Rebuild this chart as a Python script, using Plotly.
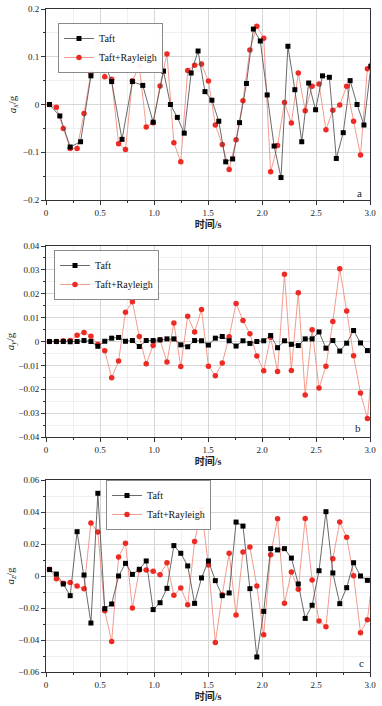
import plotly.graph_objects as go

# ---------------- data ----------------
t_red = [0.032, 0.096, 0.160, 0.224, 0.288, 0.352, 0.416, 0.480, 0.544, 0.608,
         0.672, 0.736, 0.800, 0.864, 0.928, 0.992, 1.056, 1.120, 1.184, 1.248,
         1.312, 1.376, 1.440, 1.504, 1.568, 1.632, 1.696, 1.760, 1.824, 1.888,
         1.952, 2.016, 2.080, 2.144, 2.208, 2.272, 2.336, 2.400, 2.464, 2.528,
         2.592, 2.656, 2.720, 2.784, 2.848, 2.912, 2.976, 3.040]

t_taft_a = [0.032, 0.128, 0.224, 0.320, 0.416, 0.512, 0.608, 0.704, 0.800, 0.896,
            0.992, 1.088, 1.152, 1.216, 1.280, 1.344, 1.408, 1.472, 1.536, 1.600,
            1.664, 1.728, 1.792, 1.856, 1.920, 1.984, 2.048, 2.112, 2.176, 2.240,
            2.304, 2.368, 2.432, 2.496, 2.560, 2.624, 2.688, 2.752, 2.816, 2.880,
            2.944, 3.008]

t_taft = [0.032, 0.096, 0.160, 0.224, 0.288, 0.352, 0.416, 0.480, 0.544, 0.608,
          0.672, 0.736, 0.800, 0.864, 0.928, 0.992, 1.056, 1.120, 1.184, 1.248,
          1.312, 1.376, 1.440, 1.504, 1.568, 1.632, 1.696, 1.760, 1.824, 1.888,
          1.952, 2.016, 2.080, 2.144, 2.208, 2.272, 2.336, 2.400, 2.464, 2.528,
          2.592, 2.656, 2.720, 2.784, 2.848, 2.912, 2.976]

ax_taft = [0.0, -0.024, -0.089, -0.078, 0.060, 0.105, 0.048, -0.073, 0.048, 0.040,
           -0.037, 0.070, 0.0, -0.027, -0.060, 0.066, 0.112, 0.027, 0.009, -0.035,
           -0.120, -0.114, -0.038, 0.044, 0.158, 0.133, 0.020, -0.087, -0.153, 0.122,
           0.031, -0.078, 0.045, -0.011, 0.060, 0.057, -0.113, -0.059, 0.050, 0.0,
           -0.043, 0.080]
ax_ray = [0.0, -0.006, -0.050, -0.092, -0.092, -0.019, 0.066, 0.130, 0.058, 0.053,
          -0.082, -0.094, 0.050, 0.080, -0.047, -0.038, 0.039, 0.106, -0.080, -0.120,
          0.071, 0.082, 0.085, 0.049, -0.043, -0.084, -0.136, -0.074, 0.008, 0.114,
          0.164, 0.139, -0.141, -0.086, 0.004, -0.039, 0.066, -0.013, 0.038, 0.043,
          -0.053, -0.012, -0.001, 0.038, -0.035, -0.106, 0.075, 0.110]

ay_taft = [0.0, 0.0, 0.0, -0.0001, 0.0, 0.0004, 0.0, -0.0020, 0.0001, 0.0014,
           0.0017, 0.0001, 0.0004, -0.0021, 0.0004, 0.0004, 0.0007, 0.0011, 0.0011, -0.0014,
           -0.0022, 0.0004, 0.0003, -0.0015, 0.0014, 0.0021, 0.0003, -0.0019, 0.0003, -0.0008,
           0.0, 0.0003, 0.0025, -0.0026, 0.0003, -0.0012, -0.0017, 0.0011, 0.0011, 0.0040,
           -0.0028, 0.0004, -0.0040, -0.0007, 0.0046, -0.0006, -0.0038]
ay_ray = [0.0, 0.0, 0.0003, 0.0004, 0.0026, 0.0038, 0.0022, -0.0011, -0.0039, -0.0152,
          -0.0082, 0.0123, 0.0167, 0.0021, -0.0093, -0.0017, 0.0007, -0.0086, 0.0077, -0.0105,
          0.0106, 0.0040, 0.0134, -0.0104, -0.0143, -0.0090, 0.0020, 0.0159, 0.0088, 0.0032,
          -0.0061, -0.0122, 0.0018, -0.0126, 0.0282, -0.0121, 0.0204, -0.0224, 0.0049, -0.0195,
          -0.0104, 0.0084, 0.0305, 0.0128, -0.0060, -0.0216, -0.0323, 0.0]

az_taft = [0.0040, 0.0012, -0.0050, -0.0123, 0.0277, 0.0006, -0.0294, 0.0517, -0.0204, -0.0175,
           0.0, 0.0079, 0.0010, 0.0042, 0.0094, -0.0210, -0.0167, -0.0077, 0.0190, 0.0142,
           0.0063, -0.0171, -0.0012, 0.0094, -0.0029, -0.0123, -0.0106, 0.0337, 0.0312, -0.0079,
           -0.0506, -0.0221, 0.0171, 0.0163, 0.0171, 0.0112, -0.0050, -0.0265, -0.0183, 0.0033,
           0.0402, 0.0019, -0.0173, -0.0073, 0.0083, 0.0, -0.0027]
az_ray = [0.0042, -0.0017, -0.0046, -0.0040, -0.0063, -0.0079, 0.0331, 0.0275, -0.0217, -0.0410,
          0.0119, 0.0204, -0.0200, 0.0038, 0.0038, 0.0029, 0.0008, 0.0083, -0.0121, -0.0075,
          -0.0180, 0.0215, 0.0415, 0.0069, -0.0415, -0.0117, 0.0142, -0.0244, 0.0150, 0.0181,
          -0.0063, -0.0367, 0.0133, 0.0358, -0.0171, 0.0025, -0.0083, 0.0360, -0.0025, -0.0281,
          -0.0317, 0.0108, 0.0337, 0.0242, 0.0002, -0.0354, -0.0273, 0.0080]

x_tick_vals = [0, 0.5, 1.0, 1.5, 2.0, 2.5, 3.0]
x_tick_labels = ["0", "0.5", "1.0", "1.5", "2.0", "2.5", "3.0"]
ya_vals = [-0.2, -0.1, 0, 0.1, 0.2]
ya_labels = ["\u22120.2", "\u22120.1", "0", "0.1", "0.2"]
yb_vals = [-0.04, -0.03, -0.02, -0.01, 0, 0.01, 0.02, 0.03, 0.04]
yb_labels = ["\u22120.04", "\u22120.03", "\u22120.02", "\u22120.01", "0", "0.01", "0.02", "0.03", "0.04"]
yc_vals = [-0.06, -0.04, -0.02, 0, 0.02, 0.04, 0.06]
yc_labels = ["\u22120.06", "\u22120.04", "\u22120.02", "0", "0.02", "0.04", "0.06"]

series_names = ["Taft", "Taft+Rayleigh"]
x_title = "时间/s"
y_titles = ["<i>a</i><sub><i>x</i></sub>/g", "<i>a</i><sub><i>y</i></sub>/g", "<i>a</i><sub><i>z</i></sub>/g"]
panel_labels = ["a", "b", "c"]

# ---------------- styling ----------------
W, H = 382, 706
SERIF = "Liberation Serif, Times New Roman, serif"
CJK = "Liberation Serif, Noto Sans CJK SC, serif"
BLACK_LINE = "#444444"
RED_LINE = "#f29080"
RED_MARK = "#ee2a24"

x_left, x_right = 46, 370
panels = [(9, 200), (246, 437), (480, 672)]
y_title_standoff = [4, 1, 1]

def px2x(px):
    return px / W

def py2y(py):
    return 1 - py / H

fig = go.Figure()

data_sets = [
    (t_taft_a, ax_taft, t_red, ax_ray, ya_vals, ya_labels, [-0.2, 0.2], 0.05),
    (t_taft, ay_taft, t_red, ay_ray, yb_vals, yb_labels, [-0.04, 0.04], 0.005),
    (t_taft, az_taft, t_red, az_ray, yc_vals, yc_labels, [-0.06, 0.06], 0.01),
]
legend_names = ["legend", "legend2", "legend3"]
legend_pos = [(58, 23), (54, 250), (106, 480)]

layout_kw = {}
for i, (tt, yt, tr, yr, yv, yl, yrng, yminor) in enumerate(data_sets):
    sfx = "" if i == 0 else str(i + 1)
    xa = "x" + sfx
    ya = "y" + sfx
    fig.add_trace(go.Scatter(
        x=tr, y=yr, mode="lines+markers", name=series_names[1],
        xaxis=xa, yaxis=ya, legend=legend_names[i], legendrank=2,
        line=dict(color=RED_LINE, width=0.9),
        marker=dict(symbol="circle", size=5.5, color=RED_MARK),
    ))
    fig.add_trace(go.Scatter(
        x=tt, y=yt, mode="lines+markers", name=series_names[0],
        xaxis=xa, yaxis=ya, legend=legend_names[i], legendrank=1,
        line=dict(color=BLACK_LINE, width=0.8),
        marker=dict(symbol="square", size=5, color="#000000"),
    ))
    top, bot = panels[i]
    common = dict(
        showline=True, linecolor="#333333", linewidth=1, mirror=True,
        ticks="outside", ticklen=4, tickwidth=1, tickcolor="#333333",
        showgrid=True, gridcolor="#d6d6d6", gridwidth=1, zeroline=False,
        tickfont=dict(family=SERIF, size=9, color="#222222"),
        automargin=False,
    )
    layout_kw["xaxis" + sfx] = dict(
        common, domain=[px2x(x_left), px2x(x_right)], range=[0, 3.0],
        anchor=ya, tickvals=x_tick_vals, ticktext=x_tick_labels,
        title=dict(text="<b>" + x_title + "</b>", standoff=4,
                   font=dict(family=CJK, size=10, color="#222222")),
        minor=dict(dtick=0.25, tick0=0, ticks="outside", ticklen=2, tickcolor="#333333",
                   showgrid=True, gridcolor="#efefef", gridwidth=1),
    )
    layout_kw["yaxis" + sfx] = dict(
        common, domain=[py2y(bot), py2y(top)], range=yrng,
        anchor=xa, tickvals=yv, ticktext=yl,
        title=dict(text=y_titles[i], standoff=y_title_standoff[i],
                   font=dict(family=SERIF, size=11, color="#222222")),
        minor=dict(dtick=yminor, tick0=0, ticks="outside", ticklen=2, tickcolor="#333333",
                   showgrid=True, gridcolor="#efefef", gridwidth=1),
    )
    lx, ly = legend_pos[i]
    layout_kw[legend_names[i]] = dict(
        x=px2x(lx), y=py2y(ly), xanchor="left", yanchor="top",
        bgcolor="rgba(255,255,255,0.95)", bordercolor="#8a8a8a", borderwidth=1,
        font=dict(family=SERIF, size=10, color="#111111"),
        tracegroupgap=0, itemwidth=30,
    )

annotations = []
for i, (top, bot) in enumerate(panels):
    annotations.append(dict(
        text=panel_labels[i], xref="paper", yref="paper",
        x=px2x([359, 358, 361][i]), y=py2y([193, 428, 663][i]), xanchor="center", yanchor="middle",
        showarrow=False, font=dict(family=SERIF, size=11, color="#222222"),
    ))

fig.update_layout(
    width=W, height=H, autosize=False,
    margin=dict(l=0, r=0, t=0, b=0),
    paper_bgcolor="#ffffff", plot_bgcolor="#ffffff",
    showlegend=True, annotations=annotations,
    **layout_kw,
)

fig.write_html("out.html", config={"displayModeBar": False},
               post_script="document.body.style.margin='0';document.body.style.overflow='hidden';")
